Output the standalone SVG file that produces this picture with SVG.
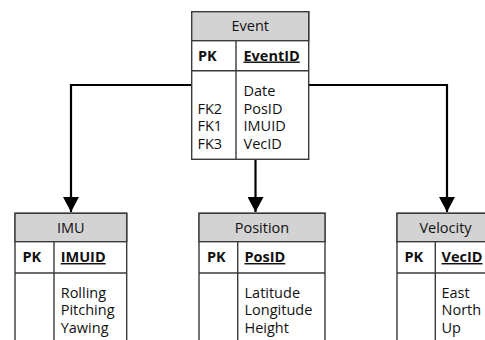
<svg xmlns="http://www.w3.org/2000/svg" width="485" height="340" viewBox="0 0 485 340">
  <defs>
    <style>
      .box { fill: #ffffff; stroke: #3a3a3a; stroke-width: 1.4; }
      .hdr { fill: #d3d3d3; stroke: #3a3a3a; stroke-width: 1.4; }
      .ln { stroke: #3a3a3a; stroke-width: 1.4; fill: none; }
      .t { font-family: "Open Sans", "DejaVu Sans", sans-serif; font-size: 14.5px; fill: #111111; }
      .c { text-anchor: middle; }
      .b { font-weight: bold; }
      .u { text-decoration: underline; }
      .conn { stroke: #000000; stroke-width: 2.2; fill: none; }
    </style>
    <marker id="arr" markerWidth="16" markerHeight="16" refX="15" refY="8" orient="auto" markerUnits="userSpaceOnUse">
      <path d="M0,0 L15,8 L0,16 Z" fill="#000000"/>
    </marker>
  </defs>
  <rect width="485" height="340" fill="#ffffff"/>

  <g id="connectors">
    <polyline class="conn" points="191.7,85 71,85 71,212" marker-end="url(#arr)"/>
    <line class="conn" x1="255.5" y1="159.3" x2="255.5" y2="212" marker-end="url(#arr)"/>
    <polyline class="conn" points="308.7,85 447,85 447,212" marker-end="url(#arr)"/>
  </g>

  <g id="event">
    <rect class="box" x="191.7" y="11.7" width="117" height="147.6"/>
    <rect class="hdr" x="191.7" y="11.7" width="117" height="29"/>
    <line class="ln" x1="191.7" y1="70.7" x2="308.7" y2="70.7"/>
    <line class="ln" x1="236" y1="40.7" x2="236" y2="159.3"/>
    <text class="t c" x="250.2" y="30.7">Event</text>
    <text class="t b" x="198" y="60.5">PK</text>
    <text class="t b u" x="243.5" y="60.5">EventID</text>
    <text class="t" x="243.5" y="95.7">Date</text>
    <text class="t" x="197.5" y="113.5">FK2</text>
    <text class="t" x="243.5" y="113.5">PosID</text>
    <text class="t" x="197.5" y="131.3">FK1</text>
    <text class="t" x="243.5" y="131.3">IMUID</text>
    <text class="t" x="197.5" y="149.1">FK3</text>
    <text class="t" x="243.5" y="149.1">VecID</text>
  </g>

  <g id="imu">
    <rect class="box" x="15" y="213.3" width="111.7" height="130"/>
    <rect class="hdr" x="15" y="213.3" width="111.7" height="28.4"/>
    <line class="ln" x1="15" y1="273" x2="126.7" y2="273"/>
    <line class="ln" x1="54" y1="241.7" x2="54" y2="343"/>
    <text class="t c" x="70.8" y="232.5">IMU</text>
    <text class="t b" x="22.5" y="262">PK</text>
    <text class="t b u" x="60.7" y="262">IMUID</text>
    <text class="t" x="60.7" y="297.5">Rolling</text>
    <text class="t" x="60.7" y="315">Pitching</text>
    <text class="t" x="60.7" y="332.5">Yawing</text>
  </g>

  <g id="position">
    <rect class="box" x="199" y="213.3" width="126" height="130"/>
    <rect class="hdr" x="199" y="213.3" width="126" height="28.4"/>
    <line class="ln" x1="199" y1="273" x2="325" y2="273"/>
    <line class="ln" x1="237.7" y1="241.7" x2="237.7" y2="343"/>
    <text class="t c" x="262" y="232.5">Position</text>
    <text class="t b" x="207" y="262">PK</text>
    <text class="t b u" x="244.5" y="262">PosID</text>
    <text class="t" x="244.5" y="297.5">Latitude</text>
    <text class="t" x="244.5" y="315">Longitude</text>
    <text class="t" x="244.5" y="332.5">Height</text>
  </g>

  <g id="velocity">
    <rect class="box" x="397" y="213.3" width="97" height="130"/>
    <rect class="hdr" x="397" y="213.3" width="97" height="28.4"/>
    <line class="ln" x1="397" y1="273" x2="494" y2="273"/>
    <line class="ln" x1="435.3" y1="241.7" x2="435.3" y2="343"/>
    <text class="t c" x="445.5" y="232.5">Velocity</text>
    <text class="t b" x="404.5" y="262">PK</text>
    <text class="t b u" x="441.5" y="262">VecID</text>
    <text class="t" x="441.5" y="297.5">East</text>
    <text class="t" x="441.5" y="315">North</text>
    <text class="t" x="441.5" y="332.5">Up</text>
  </g>
</svg>
